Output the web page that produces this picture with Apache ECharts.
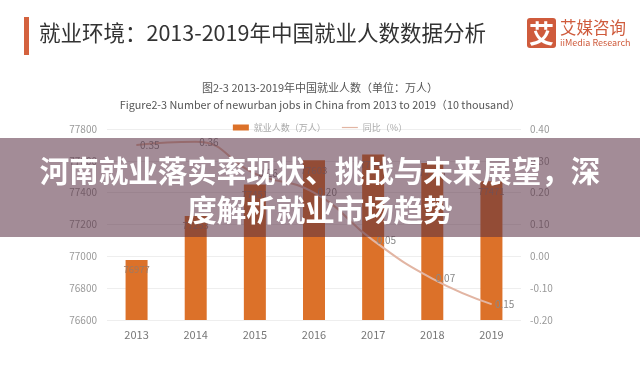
<!DOCTYPE html>
<html>
<head>
<meta charset="utf-8">
<script src="https://cdn.jsdelivr.net/npm/echarts@6/dist/echarts.min.js"></script>
<style>html,body{margin:0;padding:0;background:#fff;}#c{width:640px;height:374px;}</style>
</head>
<body>
<div id="c"></div>
<script>
const years = ['2013','2014','2015','2016','2017','2018','2019'];
const jobs = [76977, 77253, 77451, 77603, 77640, 77586, 77471];
const growth = [0.35, 0.36, 0.26, 0.20, 0.05, -0.07, -0.15];
const leftTicks = {min: 76600, max: 77800, interval: 200};
const rightTicks = {min: -0.2, max: 0.4, interval: 0.1};

const FF = '"Noto Sans CJK SC", "Noto Sans", sans-serif';
const chart = echarts.init(document.getElementById('c'));
chart.setOption({
  backgroundColor: '#fff',
  animation: false,
  textStyle: {fontFamily: FF},
  title: [
    {text: '图2-3 2013-2019年中国就业人数（单位：万人）', left: 'center', top: 77,
     textStyle: {fontSize: 11, fontWeight: 'normal', color: '#555', fontFamily: FF}},
    {text: 'Figure2-3 Number of newurban jobs in China from 2013 to 2019（10 thousand）', left: 'center', top: 95,
     textStyle: {fontSize: 10.8, fontWeight: 'normal', color: '#555', fontFamily: FF}}
  ],
  legend: {
    top: 118, left: 'center',
    itemWidth: 16, itemHeight: 6, itemGap: 16,
    textStyle: {fontSize: 9, color: '#aaa', fontFamily: FF},
    data: [{name: '就业人数（万人）', icon: 'rect'}, {name: '同比（%）', icon: 'path://M0,0 L16,0 L16,1.2 L0,1.2 Z'}]
  },
  grid: {left: 107, right: 119, top: 129, bottom: 54},
  xAxis: {
    type: 'category', data: years,
    axisLine: {show: false}, axisTick: {show: false},
    axisLabel: {color: '#777', fontSize: 11, margin: 9}
  },
  yAxis: [
    {type: 'value', min: leftTicks.min, max: leftTicks.max, interval: leftTicks.interval,
     axisLine: {show: false}, axisTick: {show: false},
     axisLabel: {color: '#999', fontSize: 10, margin: 10, formatter: v => String(v)},
     splitLine: {lineStyle: {color: '#eee'}}},
    {type: 'value', min: rightTicks.min, max: rightTicks.max, interval: rightTicks.interval,
     axisLine: {show: false}, axisTick: {show: false},
     axisLabel: {color: '#999', fontSize: 10, margin: 9, formatter: v => v.toFixed(2)},
     splitLine: {show: false}}
  ],
  series: [
    {name: '就业人数（万人）', type: 'bar', data: jobs, barWidth: 22,
     itemStyle: {color: '#dc7129'},
     label: {show: true, position: 'insideTop', distance: 5, color: '#9a7a66', fontSize: 9.5}},
    {name: '同比（%）', type: 'line', yAxisIndex: 1, data: growth, smooth: true,
     symbol: 'circle', symbolSize: 1, showSymbol: true, lineStyle: {color: '#e2b5a3', width: 2},
     itemStyle: {color: '#e2b5a3'},
     label: {show: true, position: 'right', distance: 3, color: '#888', fontSize: 10,
       formatter: p => Math.abs(p.value).toFixed(2)}}
  ],
  graphic: [
    {type: 'rect', shape: {x: 24, y: 17, width: 5, height: 38}, style: {fill: '#d4623e'}},
    {type: 'text', x: 39, y: 33, style: {text: '就业环境：2013-2019年中国就业人数数据分析', fontSize: 21.5,
      fill: '#333', fontFamily: FF, verticalAlign: 'middle'}},
    {type: 'rect', shape: {x: 527, y: 18, width: 29, height: 30, r: 3}, style: {fill: '#cf5b3c'}},
    {type: 'text', x: 541.5, y: 33, style: {text: '艾', fontSize: 25, fontWeight: 'bold', fill: '#fff',
      fontFamily: FF, align: 'center', verticalAlign: 'middle'}},
    {type: 'text', x: 560, y: 28, style: {text: '艾媒咨询', fontSize: 16.5, fill: '#cf5b3c',
      fontFamily: FF, verticalAlign: 'middle'}},
    {type: 'text', x: 560, y: 43, style: {text: 'iiMedia Research', fontSize: 9, fill: '#cf5b3c',
      fontFamily: FF, verticalAlign: 'middle'}},
    {type: 'rect', z: 100, shape: {x: 0, y: 138, width: 640, height: 99},
     style: {fill: 'rgba(88,46,66,0.55)'}},
    {type: 'text', z: 101, x: 320, y: 171, style: {text: '河南就业落实率现状、挑战与未来展望，深', fontSize: 29.5,
      fontWeight: 'bold', fill: '#fff', fontFamily: FF, align: 'center', verticalAlign: 'middle'}},
    {type: 'text', z: 101, x: 320, y: 210, style: {text: '度解析就业市场趋势', fontSize: 29.5,
      fontWeight: 'bold', fill: '#fff', fontFamily: FF, align: 'center', verticalAlign: 'middle'}}
  ]
});
</script>
</body>
</html>
